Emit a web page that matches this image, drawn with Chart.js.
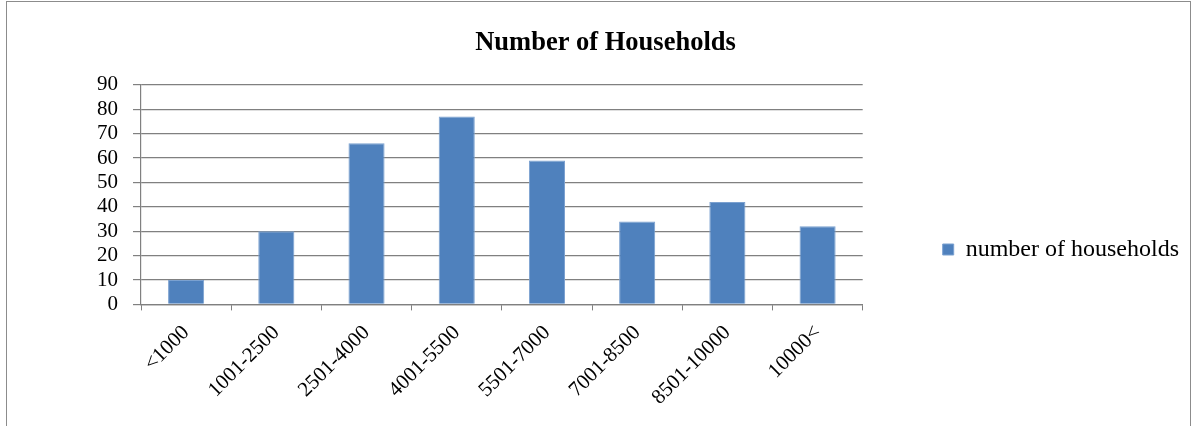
<!DOCTYPE html>
<html>
<head>
<meta charset="utf-8">
<script src="https://cdn.jsdelivr.net/npm/chart.js@4.4.0/dist/chart.umd.min.js"></script>
<style>
  html, body { margin: 0; padding: 0; background: #fff; }
  #frame { position: absolute; left: 6px; top: 1px; width: 1185px; height: 440px; border: 1.5px solid #8c8c8c; box-sizing: border-box; }
  #wrap { position: absolute; left: 0; top: 0; width: 1194px; height: 426px; }
</style>
</head>
<body>
<div id="frame"></div>
<div id="wrap"><canvas id="c" width="1194" height="426"></canvas></div>
<script>
const categories = ["<1000", "1001-2500", "2501-4000", "4001-5500", "5501-7000", "7001-8500", "8501-10000", "10000<"];
const households = [10, 30, 66, 77, 59, 34, 42, 32];
const yTicks = [0, 10, 20, 30, 40, 50, 60, 70, 80, 90];
const seriesName = "number of households";
const chartTitle = "Number of Households";

const serif = "'Liberation Serif', 'Times New Roman', serif";
Chart.defaults.font.family = serif;
Chart.defaults.color = '#000';

new Chart(document.getElementById('c'), {
  type: 'bar',
  data: {
    labels: categories,
    datasets: [{
      label: seriesName,
      data: households,
      backgroundColor: '#4F81BD',
      borderColor: '#7ba1d0',
      borderWidth: 1,
      categoryPercentage: 1.0,
      barPercentage: 0.4
    }]
  },
  options: {
    responsive: false,
    animation: false,
    layout: { padding: { left: 22, right: 5, top: 27, bottom: 6 } },
    plugins: {
      title: {
        display: true,
        text: chartTitle,
        font: { family: serif, size: 26.5, weight: 'bold' },
        color: '#000',
        padding: { top: 0, bottom: 26 }
      },
      legend: {
        position: 'right',
        maxWidth: 500,
        title: { display: true, text: ' ', font: { size: 10 }, padding: { top: 0, bottom: 40 } },
        labels: {
          boxWidth: 11,
          boxHeight: 11,
          padding: 80,
          font: { family: serif, size: 24 },
          color: '#000'
        }
      },
      tooltip: { enabled: false }
    },
    scales: {
      x: {
        offset: true,
        grid: { offset: true, drawOnChartArea: false, drawTicks: true, tickLength: 6, color: '#808080' },
        border: { color: '#808080', width: 1.2 },
        ticks: { minRotation: 45, maxRotation: 45, autoSkip: false, font: { family: serif, size: 21 }, color: '#000', padding: 10 }
      },
      y: {
        min: 0,
        max: 90,
        afterBuildTicks: (axis) => { axis.ticks = yTicks.map(v => ({ value: v })); },
        afterFit: (axis) => { axis.width = 119; },
        grid: { color: '#808080', lineWidth: 1.2, tickLength: 8 },
        border: { color: '#808080', width: 1.2 },
        ticks: { autoSkip: false, font: { family: serif, size: 21 }, color: '#000', padding: 15 }
      }
    }
  }
});
</script>
</body>
</html>
